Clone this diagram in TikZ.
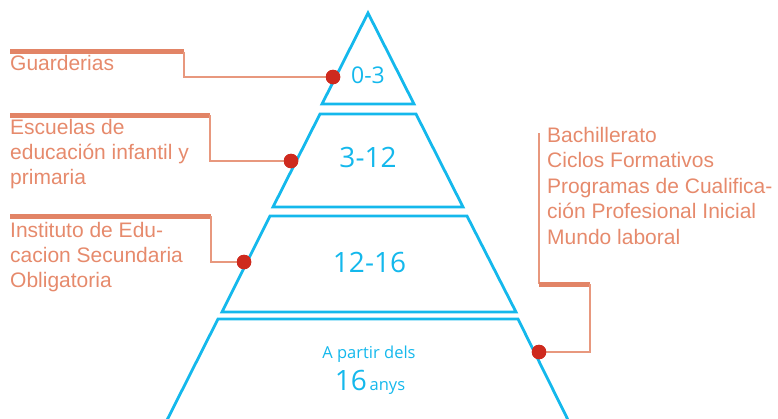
\documentclass[tikz,border=0pt]{standalone}
\usepackage{fontspec}
\setmainfont{Liberation Sans}
\newfontfamily\agefont{Open Sans}
\definecolor{pyrblue}{RGB}{20,184,236}
\definecolor{barcol}{RGB}{226,132,102}
\definecolor{leadcol}{RGB}{232,152,126}
\definecolor{labcol}{RGB}{230,138,108}
\definecolor{dotred}{RGB}{206,42,30}
\begin{document}
\begin{tikzpicture}[x=1pt,y=-1pt,
  layer/.style={draw=pyrblue,line width=2.8pt,line join=miter},
  age/.style={font=\agefont,text=pyrblue,inner sep=0pt},
  lbl/.style={font=\fontsize{21}{25}\selectfont,text=labcol,align=left,inner sep=0pt,anchor=base west},
  bar/.style={draw=barcol,line width=5pt},
  leader/.style={draw=leadcol,line width=1.3pt},
  reddot/.style={circle,fill=dotred,inner sep=0pt,minimum size=14.5pt}]
  \useasboundingbox (0,0) rectangle (778,418);
  \clip (0,0) rectangle (778,418);
  % pyramid
  \draw[layer] (368,13) -- (414,104) -- (322,104) -- cycle;
  \draw[layer] (320,114) -- (416,114) -- (463,207) -- (273,207) -- cycle;
  \draw[layer] (270,216) -- (467,216) -- (516,312) -- (222,312) -- cycle;
  \draw[layer] (218,319) -- (518,319) -- (573,430) -- (162,430) -- cycle;
  \node[age,font=\agefont\fontsize{23}{25}\selectfont] (age03) at (368,75) {0-3};
  \node[age,font=\agefont\fontsize{28}{30}\selectfont] (age312) at (368,157) {3-12};
  \node[age,font=\agefont\fontsize{28}{30}\selectfont] (age1216) at (369.5,262.5) {12-16};
  \node[age,font=\agefont\fontsize{16.5}{18}\selectfont,anchor=base] (from) at (369,358) {A partir dels};
  \node[age,font=\agefont\fontsize{16.5}{18}\selectfont,anchor=base] (age16) at (370,390) {{\fontsize{28}{30}\selectfont 16}\,anys};
  % labels (base = last line)
  \node[lbl] (guard) at (10,70) {Guarderias};
  \node[lbl] (escu) at (10,184) {Escuelas de\\educación infantil y\\primaria};
  \node[lbl] (inst) at (10,287) {Instituto de Edu-\\cacion Secundaria\\Obligatoria};
  \node[lbl,font=\fontsize{21}{25.5}\selectfont] (bach) at (547,244) {Bachillerato\\Ciclos Formativos\\Programas de Cualifica-\\ción Profesional Inicial\\Mundo laboral};
  % leaders
  \node[reddot] (gdot) at (333,77) {};
  \node[reddot] (edot) at (291,161) {};
  \node[reddot] (idot) at (244,262) {};
  \node[reddot] (bdot) at (539,352) {};
  \foreach \yb/\xe/\d in {51.5/184/gdot,115/210/edot,216/211/idot}{
    \draw[bar] (10,\yb) -- (\xe,\yb) coordinate (\d-end);
    \draw[leader] (\d-end) |- (\d);
  }
  \coordinate (btop) at (539,133);
  \coordinate (bbar) at (539,284);
  \coordinate (bend) at (590,284);
  \draw[leader] (btop) -- (bbar);
  \draw[bar] (bbar) -- (bend);
  \draw[leader] (bend) |- (bdot);
  \foreach \d in {gdot,edot,idot,bdot} \node[reddot] at (\d) {};
\end{tikzpicture}
\end{document}
